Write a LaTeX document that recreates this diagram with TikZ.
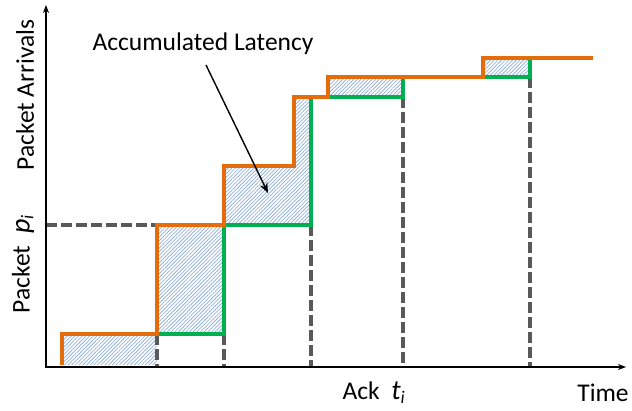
\documentclass[tikz,border=0pt]{standalone}
\usepackage{fontspec}
\setmainfont{Carlito}
\usetikzlibrary{patterns.meta,arrows.meta}
\definecolor{arrorange}{RGB}{228,108,10}
\definecolor{ackgreen}{RGB}{0,176,80}
\definecolor{guidegray}{RGB}{89,89,89}
\definecolor{hatchblue}{RGB}{149,179,215}
\tikzset{
  axis/.style={line width=1.8pt,-{Stealth[length=8pt,width=6pt]}},
  arrivals/.style={arrorange,line width=4pt},
  acks/.style={ackgreen,line width=4pt},
  guide/.style={guidegray,line width=3.6pt,dash pattern=on 11pt off 4pt},
  latency/.style={pattern={Lines[angle=45,distance=2.6pt,line width=0.8pt]},pattern color=hatchblue},
  lbl/.style={font=\fontsize{25.5}{30}\selectfont,inner sep=0pt}
}
\begin{document}
\begin{tikzpicture}[x=1pt,y=-1pt]
\useasboundingbox (0,0) rectangle (632,411);

% hatched latency areas between arrival and ack curves
\fill[latency] (62,365) rectangle (157,334);
\fill[latency] (157,334) rectangle (224,225);
\fill[latency] (224,225) -- (224,166) -- (294,166) -- (294,97) -- (311,97) -- (311,225) -- cycle;
\fill[latency] (328,97) rectangle (403,77);
\fill[latency] (483,77) rectangle (530,58);

% dashed guides to the axes
\draw[guide] (46,225) -- (157,225);
\draw[guide] (157,334) -- (157,367);
\draw[guide] (224,334) -- (224,367);
\draw[guide] (311,225) -- (311,367);
\draw[guide] (403,97) -- (403,367);
\draw[guide] (530,77) -- (530,367);

% axes
\draw[axis] (46,368) -- (46,5);
\draw[axis] (45,367) -- (626,367);

% acknowledgement staircase
\draw[acks] (157,334) -- (224,334) -- (224,225) -- (311,225) -- (311,97);
\draw[acks] (328,97) -- (403,97) -- (403,77);
\draw[acks] (483,77) -- (530,77) -- (530,58);

% packet arrival staircase
\draw[arrivals] (62,365) -- (62,334) -- (157,334) -- (157,225) -- (224,225) -- (224,166)
  -- (294,166) -- (294,97) -- (328,97) -- (328,77) -- (483,77) -- (483,58) -- (593,58);

% labels
\node[lbl] (acc) at (203,44) {Accumulated Latency};
\coordinate (acctip) at (268,193);
\draw[line width=1.4pt,-{Stealth[length=10pt,width=8pt]}] (206,65) -- (acctip);
\node[lbl,rotate=90] (yarr) at (25,95) {Packet Arrivals};
\node[lbl,rotate=90] (ypk) at (23,264) {Packet \ {\fontsize{28}{30}\selectfont\textit{p}}\textsubscript{\textit{i}}};
\node[lbl] (ack) at (374,393) {Ack \ {\fontsize{28}{30}\selectfont\textit{t}}\textsubscript{\textit{i}}};
\node[lbl] (time) at (603,393) {Time};
\end{tikzpicture}
\end{document}
